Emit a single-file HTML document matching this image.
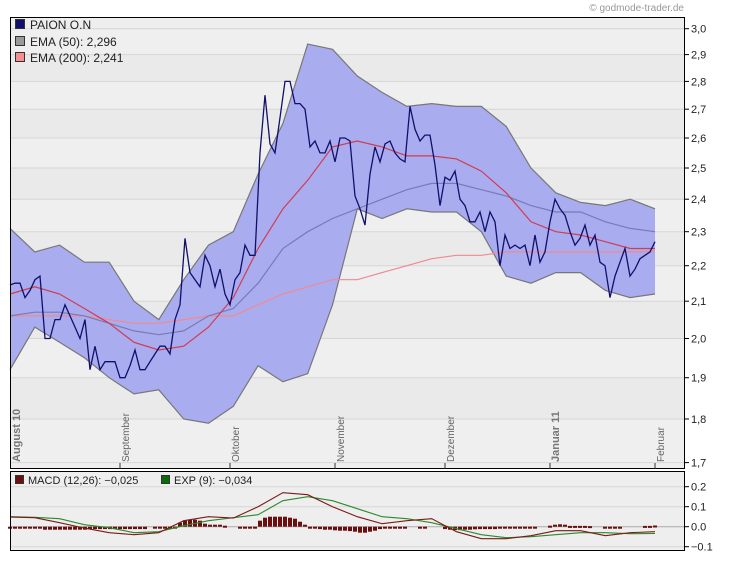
<!DOCTYPE html>
<html><head><meta charset="utf-8"><style>
html,body{margin:0;padding:0;background:#fff;}
svg{display:block;font-family:"Liberation Sans",sans-serif;}
</style></head><body>
<svg id="chart" width="730" height="561" viewBox="0 0 730 561" xmlns="http://www.w3.org/2000/svg">
<text x="684" y="11" font-size="10" fill="#999" text-anchor="end">© godmode-trader.de</text>
<rect x="10.5" y="17.5" width="674" height="451" fill="#eeeeee"/>
<g id="bands"></g><g id="grid"></g><g id="series"></g>
<rect x="10.5" y="17.5" width="674" height="451" fill="none" stroke="#000"/>
<g id="yaxis"></g><g id="xaxis"></g>
<g>
<rect x="15.5" y="19.5" width="9" height="9" fill="#10106a" stroke="#333"/>
<text x="30" y="29" font-size="12" fill="#222">PAION O.N</text>
<rect x="15.5" y="36.5" width="9" height="9" fill="#9a9a9a" stroke="#333"/>
<text x="30" y="46" font-size="12" fill="#222">EMA (50): 2,296</text>
<rect x="15.5" y="52.5" width="9" height="9" fill="#f49090" stroke="#333"/>
<text x="30" y="62" font-size="12" fill="#222">EMA (200): 2,241</text>
</g>
<rect x="10.5" y="471.5" width="674" height="79" fill="#eeeeee"/>
<g id="mgrid"></g><g id="mseries"></g>
<rect x="10.5" y="471.5" width="674" height="79" fill="none" stroke="#000"/>
<g id="myaxis"></g>
<g>
<rect x="15.5" y="475.5" width="8" height="8" fill="#6b0f0f" stroke="#333"/>
<text x="28" y="484" font-size="11" fill="#222">MACD (12,26): −0,025</text>
<rect x="161.5" y="475.5" width="8" height="8" fill="#0b6b0b" stroke="#333"/>
<text x="174" y="484" font-size="11" fill="#222">EXP (9): −0,034</text>
</g>
</svg>
<script>
const price=[2.145,2.15,2.15,2.11,2.13,2.16,2.17,2.00,2.00,2.05,2.05,2.09,2.06,2.03,2.00,2.05,1.92,1.98,1.92,1.94,1.94,1.94,1.90,1.90,1.93,1.97,1.92,1.92,1.94,1.96,1.98,1.98,1.96,2.05,2.09,2.28,2.18,2.16,2.14,2.23,2.20,2.14,2.19,2.12,2.09,2.16,2.18,2.26,2.23,2.23,2.55,2.75,2.58,2.55,2.67,2.80,2.80,2.72,2.72,2.70,2.57,2.59,2.55,2.55,2.59,2.52,2.60,2.60,2.59,2.41,2.37,2.32,2.48,2.57,2.52,2.58,2.59,2.55,2.53,2.52,2.71,2.63,2.59,2.61,2.61,2.51,2.38,2.47,2.46,2.49,2.40,2.38,2.33,2.33,2.36,2.30,2.36,2.33,2.20,2.29,2.25,2.26,2.25,2.26,2.20,2.29,2.21,2.24,2.33,2.40,2.37,2.35,2.30,2.26,2.28,2.32,2.26,2.29,2.21,2.20,2.11,2.17,2.21,2.25,2.17,2.19,2.22,2.23,2.24,2.27];
const bandUpper=[2.31,2.24,2.26,2.21,2.21,2.10,2.05,2.16,2.26,2.30,2.48,2.65,2.94,2.92,2.82,2.76,2.71,2.72,2.71,2.71,2.64,2.50,2.42,2.39,2.38,2.40,2.37];
const bandLower=[1.92,2.03,1.99,1.95,1.90,1.86,1.87,1.80,1.79,1.83,1.93,1.89,1.91,2.09,2.37,2.34,2.37,2.36,2.36,2.30,2.17,2.15,2.18,2.18,2.13,2.11,2.12];
const emaFast=[2.12,2.14,2.12,2.08,2.04,1.99,1.97,1.98,2.03,2.11,2.25,2.37,2.46,2.57,2.59,2.57,2.54,2.54,2.53,2.49,2.42,2.33,2.30,2.29,2.27,2.25,2.25];
const ema50=[2.06,2.07,2.07,2.06,2.04,2.02,2.01,2.02,2.06,2.08,2.15,2.25,2.30,2.34,2.37,2.40,2.43,2.45,2.45,2.43,2.41,2.38,2.36,2.36,2.33,2.31,2.30];
const ema200=[2.06,2.06,2.06,2.06,2.05,2.04,2.04,2.05,2.06,2.06,2.09,2.12,2.14,2.16,2.16,2.18,2.20,2.22,2.23,2.23,2.24,2.24,2.24,2.24,2.24,2.24,2.241];
const macd=[0.048,0.045,0.02,-0.007,-0.03,-0.04,-0.03,0.03,0.05,0.043,0.10,0.17,0.16,0.10,0.05,0.015,0.03,0.04,-0.025,-0.06,-0.06,-0.045,-0.02,-0.02,-0.045,-0.03,-0.025];
const signal=[0.05,0.047,0.04,0.01,-0.005,-0.03,-0.025,0.005,0.03,0.045,0.06,0.13,0.15,0.13,0.09,0.05,0.04,0.02,-0.01,-0.04,-0.055,-0.05,-0.04,-0.03,-0.03,-0.035,-0.034];
const hist=[-0.005,-0.005,-0.005,-0.005,-0.005,-0.005,-0.005,-0.015,-0.015,-0.015,-0.015,-0.015,-0.015,-0.015,-0.015,-0.015,-0.012,-0.012,-0.012,-0.012,-0.012,-0.012,-0.012,-0.012,-0.012,-0.012,-0.012,-0.012,0,-0.005,-0.005,-0.005,-0.005,-0.005,0.02,0.03,0.035,0.035,0.03,0.015,0.01,0.01,0.01,0.005,0,0,-0.005,-0.005,-0.005,-0.005,0.03,0.045,0.05,0.05,0.05,0.05,0.045,0.04,0.025,0.01,-0.003,-0.01,-0.012,-0.015,-0.015,-0.018,-0.02,-0.02,-0.022,-0.025,-0.03,-0.03,-0.025,-0.02,-0.012,-0.008,-0.006,-0.006,-0.006,-0.005,0,0,-0.004,-0.004,0,0,0,-0.012,-0.015,-0.017,-0.017,-0.015,-0.015,-0.013,-0.012,-0.012,-0.012,-0.012,-0.01,-0.01,-0.01,-0.008,-0.008,-0.006,-0.005,-0.004,0,0,0.005,0.01,0.012,0.01,0.004,0.004,0.004,0.004,0.003,0,0,-0.005,-0.005,-0.005,-0.004,0,0,0,0,0.004,0.004,0.006];
const priceTicks=[1.7,1.8,1.9,2.0,2.1,2.2,2.3,2.4,2.5,2.6,2.7,2.8,2.9,3.0];
const priceTickLabels=["1,7","1,8","1,9","2,0","2,1","2,2","2,3","2,4","2,5","2,6","2,7","2,8","2,9","3,0"];
const macdTicks=[-0.1,0,0.1,0.2];
const macdTickLabels=["−0.1","0.0","0.1","0.2"];
const months=["August 10","September","Oktober","November","Dezember","Januar 11","Februar"];
const monthIdx=[0,22,44,65,87,108,129];
const monthBold=[true,false,false,false,false,true,false];

const NS="http://www.w3.org/2000/svg";
const N=price.length;
function xi(i){return 10+645*i/(N-1);}
function xk(k,len){return 10+645*k/(len-1);}
function y(v){return 28.7+(Math.log(3)-Math.log(v))*764;}
function my(v){return 526.7-v*200;}
function mk(tag,attrs,parent){const e=document.createElementNS(NS,tag);for(const a in attrs)e.setAttribute(a,attrs[a]);document.getElementById(parent).appendChild(e);return e;}
function pts(arr,fx,fy){return arr.map((v,i)=>fx(i,arr.length).toFixed(1)+","+fy(v).toFixed(1)).join(" ");}

for(let t=0;t<priceTicks.length;t++){
  const yy=y(priceTicks[t]);
  if(t<priceTicks.length-1){
    const y2=y(priceTicks[t+1]);
    const s=mk("rect",{x:11,y:Math.max(18,y2),width:673,height:yy-Math.max(18,y2),fill:t%2?"#eaeaea":"#efefef"},"bands");
    
    
  }
  const g=mk("line",{x1:11,x2:684,y1:yy.toFixed(1),y2:yy.toFixed(1),stroke:"#d6d6d6"},"grid");
  
  
  const tk=mk("line",{x1:685,x2:689,y1:yy.toFixed(1),y2:yy.toFixed(1),stroke:"#000"},"yaxis");
  
  
  const lb=mk("text",{x:691,y:(yy+4).toFixed(1),"font-size":11,fill:"#222"},"yaxis");
  
  
  lb.textContent=priceTickLabels[t];
}
const up=pts(bandUpper,xk,y), lo=bandLower.map((v,k)=>xk(k,bandLower.length).toFixed(1)+","+y(v).toFixed(1)).reverse().join(" ");
const band=mk("polygon",{points:up+" "+lo,fill:"#aaacf0",stroke:"none"},"series");


const bu=mk("polyline",{points:up,fill:"none",stroke:"#777",'stroke-width':1.2},"series");


const bl=mk("polyline",{points:pts(bandLower,xk,y),fill:"none",stroke:"#777",'stroke-width':1.2},"series");


const l200=mk("polyline",{points:pts(ema200,xk,y),fill:"none",stroke:"#f08a90",'stroke-width':1.2},"series");


const l50=mk("polyline",{points:pts(ema50,xk,y),fill:"none",stroke:"#7a7ab4",'stroke-width':1.2},"series");


const lf=mk("polyline",{points:pts(emaFast,xk,y),fill:"none",stroke:"#d03c50",'stroke-width':1.2},"series");


const pl=mk("polyline",{points:pts(price,(i)=>xi(i),y),fill:"none",stroke:"#10106a",'stroke-width':1.3},"series");



for(let m=0;m<months.length;m++){
  const xx=xi(monthIdx[m]);
  if(m>0){
    const tk=mk("line",{x1:xx.toFixed(1),x2:xx.toFixed(1),y1:463,y2:469,stroke:"#333"},"xaxis");
    
    
  }
  const tx=m===0?20:xx+9;
  const lb=mk("text",{x:0,y:0,"font-size":monthBold[m]?11:10,"font-weight":monthBold[m]?"bold":"normal",fill:monthBold[m]?"#777":"#666",transform:"translate("+tx.toFixed(1)+",462) rotate(-90)"},"xaxis");
  
  
  lb.textContent=months[m];
}

for(let t=0;t<macdTicks.length;t++){
  const yy=my(macdTicks[t]);
  const g=mk("line",{x1:11,x2:684,y1:yy.toFixed(1),y2:yy.toFixed(1),stroke:macdTicks[t]===0?"#aaa":"#d6d6d6"},"mgrid");
  
  
  const tk=mk("line",{x1:685,x2:689,y1:yy.toFixed(1),y2:yy.toFixed(1),stroke:"#000"},"myaxis");
  
  
  const lb=mk("text",{x:691,y:(yy+4).toFixed(1),"font-size":11,fill:"#222"},"myaxis");
  
  
  lb.textContent=macdTickLabels[t];
}
for(let i=0;i<hist.length;i++){
  if(hist[i]===0)continue;
  const y0=my(0),y1=my(hist[i]);
  const b=mk("rect",{x:(xi(i)-2).toFixed(1),y:Math.min(y0,y1).toFixed(1),width:4,height:Math.max(2,Math.abs(y1-y0)).toFixed(1),fill:"#6b0f0f"},"mseries");
  
  
}
const ms=mk("polyline",{points:pts(signal,xk,my),fill:"none",stroke:"#2a8a2a",'stroke-width':1.1},"mseries");


const mm=mk("polyline",{points:pts(macd,xk,my),fill:"none",stroke:"#7a1a1a",'stroke-width':1.1},"mseries");


</script>
</body></html>
